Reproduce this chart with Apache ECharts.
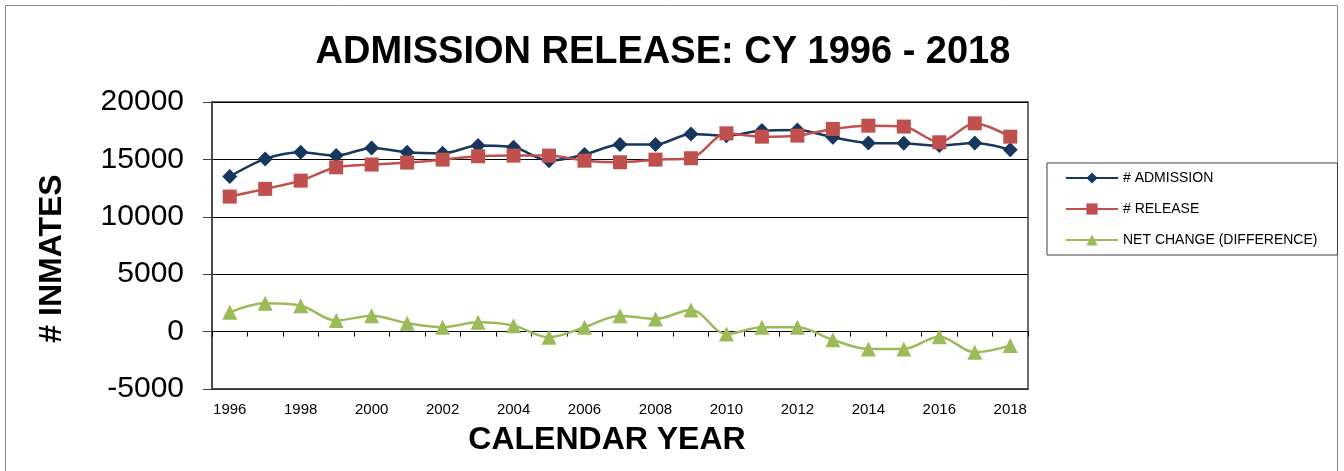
<!DOCTYPE html>
<html>
<head>
<meta charset="utf-8">
<title>Admission Release</title>
<script src="https://cdn.jsdelivr.net/npm/echarts@6/dist/echarts.min.js"></script>
<style>
  html, body { margin: 0; padding: 0; background: #fff; }
  #chart { width: 1344px; height: 471px; }
</style>
</head>
<body>
<div id="chart"></div>
<script>
  // values
  const years = ['1996','1997','1998','1999','2000','2001','2002','2003','2004','2005','2006','2007',
                 '2008','2009','2010','2011','2012','2013','2014','2015','2016','2017','2018'];
  const admission = [13500, 15040, 15620, 15330, 16000, 15620, 15530, 16200, 16050, 14890, 15420, 16290,
                     16290, 17220, 17070, 17510, 17570, 16920, 16430, 16400, 16200, 16430, 15850];
  const release = [11760, 12430, 13150, 14310, 14550, 14720, 14980, 15270, 15330, 15330, 14890, 14750,
                   14980, 15100, 17270, 16980, 17070, 17650, 17940, 17860, 16490, 18140, 16980];
  const netChange = [1680, 2470, 2260, 960, 1390, 730, 380, 810, 520, -490, 380, 1390,
                     1100, 1890, -200, 380, 380, -720, -1510, -1510, -440, -1800, -1220];
  const yTicks = [-5000, 0, 5000, 10000, 15000, 20000];

  const font = 'Liberation Sans, Arial, sans-serif';
  let myChart = echarts.init(document.getElementById('chart'));

  let option = {
    backgroundColor: '#fff',
    animation: false,
    textStyle: { fontFamily: font },
    graphic: [{
      type: 'rect',
      shape: { x: 5.5, y: 5.5, width: 1332, height: 480 },
      style: { fill: 'none', stroke: '#8c8c8c', lineWidth: 1 },
      silent: true
    }],
    title: {
      text: 'ADMISSION RELEASE: CY 1996 - 2018',
      left: 658,
      textAlign: 'center',
      top: 29,
      textStyle: { fontFamily: font, fontSize: 38, fontWeight: 'bold', color: '#000' }
    },
    legend: {
      orient: 'vertical',
      left: 1047,
      top: 163,
      padding: [8, 20, 8, 18],
      itemWidth: 52,
      itemHeight: 14,
      itemGap: 17,
      borderColor: '#404040',
      borderWidth: 1,
      textStyle: { fontFamily: font, fontSize: 14, color: '#000' },
      data: ['# ADMISSION', '# RELEASE', 'NET CHANGE (DIFFERENCE)']
    },
    grid: {
      left: 212,
      right: 316,
      top: 102,
      bottom: 82,
      show: true,
      borderColor: '#404040',
      borderWidth: 1.5
    },
    xAxis: [
      {
        type: 'category',
        data: years,
        boundaryGap: true,
        axisLine: { onZero: false, lineStyle: { color: '#404040', width: 1.5 } },
        axisTick: { show: false },
        axisLabel: { interval: 1, margin: 13, fontSize: 15, color: '#000', fontFamily: font },
        name: 'CALENDAR YEAR',
        nameLocation: 'middle',
        nameGap: 35,
        nameTextStyle: { fontSize: 32, fontWeight: 'bold', color: '#000', fontFamily: font, padding: [0, 26, 0, 0] }
      },
      {
        type: 'category',
        data: years,
        boundaryGap: true,
        position: 'bottom',
        axisLine: { onZero: true, lineStyle: { color: '#000', width: 1 } },
        axisTick: { show: true, inside: false, length: 5, lineStyle: { color: '#000' } },
        axisLabel: { show: false }
      }
    ],
    yAxis: {
      type: 'value',
      min: yTicks[0],
      max: yTicks[yTicks.length - 1],
      interval: 5000,
      axisLine: { show: true, lineStyle: { color: '#404040', width: 1.5 } },
      axisTick: { show: true, inside: false, length: 9, lineStyle: { color: '#404040' } },
      axisLabel: { margin: 28, fontSize: 30, color: '#000', fontFamily: font, formatter: v => String(v) },
      splitLine: { show: true, lineStyle: { color: '#000', width: 1 } },
      name: '# INMATES',
      nameLocation: 'middle',
      nameGap: 144,
      nameTextStyle: { fontSize: 32, fontWeight: 'bold', color: '#000', fontFamily: font, padding: [0, 26, 0, 0] }
    },
    series: [
      {
        name: '# ADMISSION',
        type: 'line',
        xAxisIndex: 0,
        data: admission,
        smooth: 0.3,
        symbol: 'diamond',
        symbolSize: 15,
        color: '#17375E',
        lineStyle: { width: 2.5, color: '#17375E' },
        itemStyle: { color: '#17375E' },
        z: 3
      },
      {
        name: '# RELEASE',
        type: 'line',
        xAxisIndex: 0,
        data: release,
        smooth: 0.3,
        symbol: 'rect',
        symbolSize: 14,
        color: '#C0504D',
        lineStyle: { width: 2.5, color: '#C0504D' },
        itemStyle: { color: '#C0504D' },
        z: 4
      },
      {
        name: 'NET CHANGE (DIFFERENCE)',
        type: 'line',
        xAxisIndex: 0,
        data: netChange,
        smooth: 0.35,
        symbol: 'triangle',
        symbolSize: 15,
        color: '#9BBB59',
        lineStyle: { width: 2.5, color: '#9BBB59' },
        itemStyle: { color: '#9BBB59' },
        z: 3
      }
    ]
  };
  myChart.setOption(option);
</script>
</body>
</html>
